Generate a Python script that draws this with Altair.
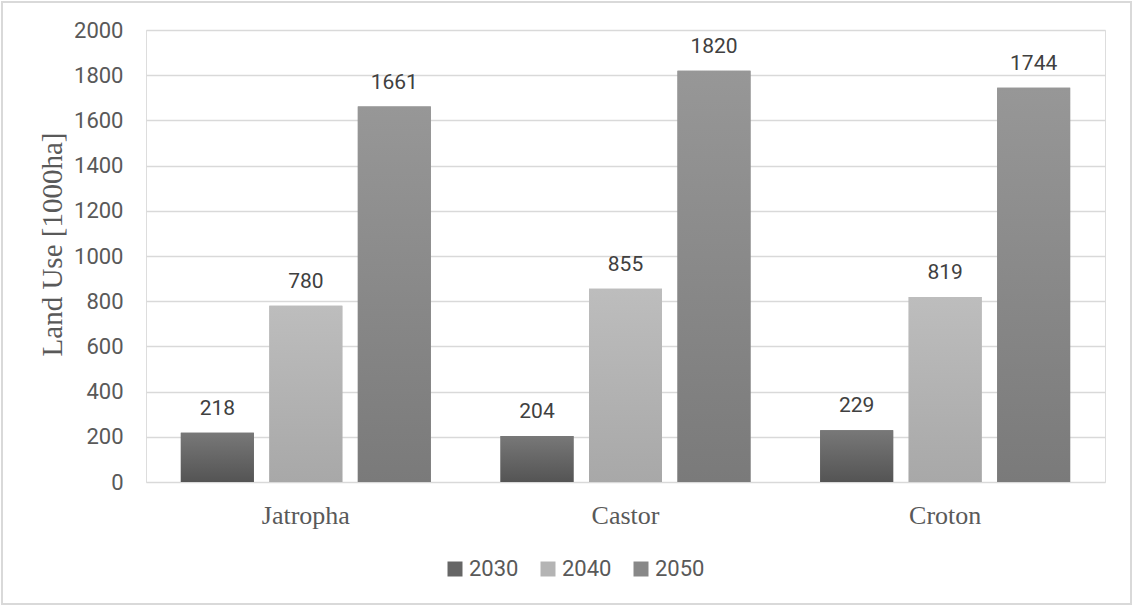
import altair as alt
import pandas as pd

crops = ["Jatropha", "Castor", "Croton"]
years = ["2030", "2040", "2050"]
v2030 = [218, 204, 229]
v2040 = [780, 855, 819]
v2050 = [1661, 1820, 1744]

rows = []
for i, c in enumerate(crops):
    for y, vals in zip(years, [v2030, v2040, v2050]):
        rows.append({"crop": c, "year": y, "value": vals[i]})
df = pd.DataFrame(rows)

flat = ["#666666", "#b4b4b4", "#888888"]
grads = {
    "2030": ("#787878", "#545454"),
    "2040": ("#bdbdbd", "#a8a8a8"),
    "2050": ("#979797", "#7a7a7a"),
}

x_enc = alt.X("crop:N", sort=crops, title=None,
              scale=alt.Scale(paddingInner=0.218, paddingOuter=0.109),
              axis=alt.Axis(labelFont="Liberation Serif", labelFontSize=26,
                            labelColor="#595959", labelPadding=20,
                            labelAngle=0, domain=False, ticks=False))
xo_enc = alt.XOffset("year:N", sort=years,
                     scale=alt.Scale(domain=years, paddingInner=0.175, paddingOuter=0))
y_enc = alt.Y("value:Q", title="Land Use [1000ha]",
              scale=alt.Scale(domain=[0, 2000], nice=False),
              axis=alt.Axis(values=list(range(0, 2001, 200)), format="d", grid=True,
                            gridColor="#d9d9d9", gridWidth=1.5,
                            domain=False, ticks=False,
                            labelFont="Roboto", labelFontSize=22,
                            labelColor="#595959", labelPadding=23,
                            titleFont="Liberation Serif", titleFontSize=29,
                            titleFontWeight="normal", titleColor="#595959",
                            titleX=-94, titleY=214, titleAngle=-90,
                            titleAlign="center", titleBaseline="middle"))

base = alt.Chart(df).encode(x=x_enc, xOffset=xo_enc, y=y_enc)

legend_bars = base.mark_bar().encode(
    color=alt.Color("year:N", sort=years,
                    scale=alt.Scale(domain=years, range=flat),
                    legend=alt.Legend(title=None, orient="none", direction="horizontal",
                                      legendX=298, legendY=528,
                                      symbolType="square", symbolSize=225,
                                      symbolStrokeWidth=0,
                                      labelFont="Roboto", labelFontSize=22,
                                      labelColor="#595959", columnPadding=18,
                                      labelOffset=3))
)

layers = [legend_bars]
for yr in years:
    top, bot = grads[yr]
    layers.append(
        base.transform_filter(alt.datum.year == yr).mark_bar(
            color=alt.Gradient(gradient="linear", x1=0, x2=0, y1=0, y2=1,
                               stops=[alt.GradientStop(color=top, offset=0),
                                      alt.GradientStop(color=bot, offset=1)])
        )
    )

labels = base.mark_text(baseline="alphabetic", dy=-18, font="Roboto",
                        fontSize=21, color="#404040").encode(text="value:Q")
layers.append(labels)

border = alt.Chart(alt.Data(values=[{}])).mark_rect(
    fill=None, stroke="#d9d9d9", strokeWidth=2
).encode(x=alt.value(-144), x2=alt.value(985), y=alt.value(-28), y2=alt.value(574))
layers.append(border)

chart = alt.layer(*layers).properties(
    width=959, height=452,
    padding={"left": 146, "top": 30, "right": 29, "bottom": 124},
    autosize="none",
).configure_view(stroke=None).configure(background="white")

chart.save("out.html", embed_options={"renderer": "svg", "actions": False})
